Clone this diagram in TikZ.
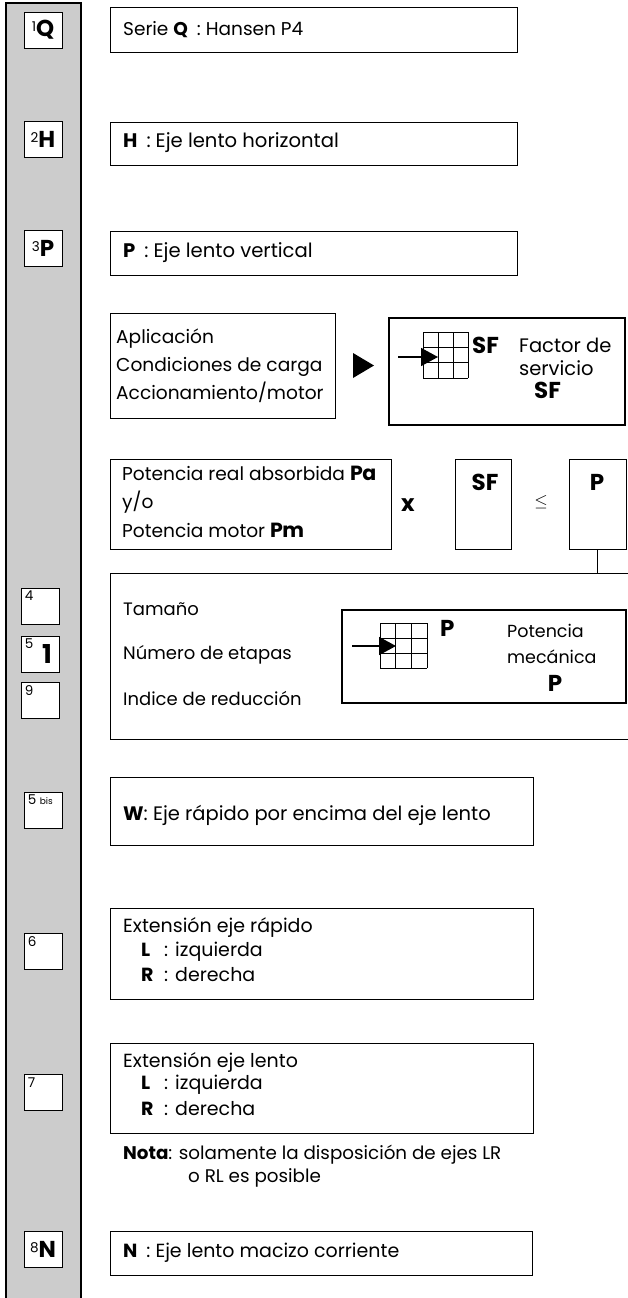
\documentclass[tikz,border=0pt]{standalone}
\usepackage{fontspec}
\setmainfont{Poppins}
\usetikzlibrary{arrows.meta}
\definecolor{stripgray}{HTML}{CCCCCC}
\newcommand\keyc[1]{\textbf{#1}\hspace{9pt}:\hspace{5pt}}
\begin{document}
\begin{tikzpicture}[x=1pt,y=-1pt,
  lab/.style={draw=black,fill=white,line width=0.8pt,minimum width=38pt,minimum height=36pt,inner sep=0pt},
  tbox/.style={draw=black,line width=0.9pt,inner sep=0pt},
  heavybox/.style={draw=black,line width=2.6pt,inner sep=0pt},
  txt/.style={anchor=west,inner sep=0pt,font=\fontsize{19}{22}\selectfont},
  ctxt/.style={inner sep=0pt,font=\fontsize{18}{19}\selectfont},
  num/.style={anchor=north west,inner sep=0pt,font=\fontsize{13.5}{13.5}\selectfont},
  bigb/.style={inner sep=0pt,font=\bfseries\fontsize{23}{23}\selectfont},
  tip/.style={-{Triangle[length=17pt,width=18pt]},line width=1.6pt}
]
\useasboundingbox (0,0) rectangle (628,1298);
% left strip
\fill[stripgray] (6,1300) -- (6,3) -- (81,3) -- (81,1300) -- cycle;
\draw[line width=2.2pt] (6,1300) -- (6,3) -- (81,3) -- (81,1300);

% label boxes
\node[lab] (l1) at (43,30) {\raisebox{5pt}{\fontsize{13.5}{13.5}\selectfont 1}{\bfseries\fontsize{23}{23}\selectfont Q}};
\node[lab] (l2) at (43,139) {\raisebox{5pt}{\fontsize{13.5}{13.5}\selectfont 2}{\bfseries\fontsize{23}{23}\selectfont H}};
\node[lab] (l3) at (43,248.5) {\raisebox{5pt}{\fontsize{13.5}{13.5}\selectfont 3}{\bfseries\fontsize{23}{23}\selectfont P}};
\node[lab] (l4) at (40,606) {};
\node[num] at ([shift={(4,3)}]l4.north west) {4};
\node[lab] (l5) at (40,654) {};
\node[num] at ([shift={(4,3)}]l5.north west) {5};
\node[bigb,font=\bfseries\fontsize{26}{26}\selectfont] at (47,654) {1};
\node[lab] (l9) at (40,700.5) {};
\node[num] at ([shift={(4,3)}]l9.north west) {9};
\node[lab] (l5b) at (43,810) {};
\node[num] at ([shift={(4,3)}]l5b.north west) {5 {\fontsize{9}{9}\selectfont bis}};
\node[lab] (l6) at (43,951.5) {};
\node[num] at ([shift={(4,3)}]l6.north west) {6};
\node[lab] (l7) at (43,1092.5) {};
\node[num] at ([shift={(4,3)}]l7.north west) {7};
\node[lab] (l8) at (43,1249) {\raisebox{5pt}{\fontsize{13.5}{13.5}\selectfont 8}{\bfseries\fontsize{23}{23}\selectfont N}};

% top three boxes
\node[tbox,minimum width=407pt,minimum height=45pt] (serie) at (313.5,29.5) {};
\node[txt,font=\fontsize{18.5}{22}\selectfont] (tserie) at (123,30) {Serie \keyc{Q}Hansen P4};
\node[tbox,minimum width=407pt,minimum height=43pt] (hbox) at (313.5,143.5) {};
\node[txt,font=\fontsize{19.6}{22}\selectfont] (th) at (123,143) {\keyc{H}Eje lento horizontal};
\node[tbox,minimum width=407pt,minimum height=44pt] (pbox) at (313.5,253) {};
\node[txt,font=\fontsize{19.6}{22}\selectfont] (tp) at (123,253) {\keyc{P}Eje lento vertical};

% application / service factor
\node[tbox,minimum width=225pt,minimum height=105pt] (apl) at (222.5,365.5) {};
\node[txt,align=left,font=\fontsize{18.6}{28}\selectfont] (tapl) at (116,366) {Aplicación\\Condiciones de carga\\Accionamiento/motor};
\fill (353,353) -- (374,365.5) -- (353,378) -- cycle;
\node[heavybox,minimum width=236pt,minimum height=107pt] (sfbox) at (507,371.5) {};
\foreach \i in {0,1,2,3} {
  \draw[line width=0.8pt] (423+15*\i,332) -- (423+15*\i,378);
  \draw[line width=0.8pt] (423,332+15.33*\i) -- (468,332+15.33*\i);
}
\coordinate (sfa) at (398,357);
\coordinate (sfb) at (438,357);
\draw[tip] (sfa) -- (sfb);
\node[bigb,anchor=west] (sf1) at (472,345) {SF};
\node[txt,font=\fontsize{19.5}{22}\selectfont] (tfac) at (519,345) {Factor de};
\node[txt,font=\fontsize{19.5}{22}\selectfont] (tser) at (519,368) {servicio};
\node[bigb,anchor=west] (sf2) at (534,390) {SF};

% formula row
\node[tbox,minimum width=281pt,minimum height=90pt] (pot) at (250.5,504) {};
\node[txt,align=left,font=\fontsize{18.6}{28.5}\selectfont] (tpot) at (122,501.5) {Potencia real absorbida {\fontsize{20.5}{20}\selectfont\textbf{P\kern-0.5pt a}}\\y/o\\Potencia motor {\fontsize{20.5}{20}\selectfont\textbf{P\kern-0.5pt m}}};
\node[bigb] (times) at (408,505) {x};
\node[tbox,minimum width=56pt,minimum height=90pt] (sfv) at (483,504) {};
\node[bigb] (sfvt) at (485,482) {SF};
\node[ctxt] (leq) at (541,502) {$\leq$};
\node[tbox,minimum width=57pt,minimum height=90pt] (pv) at (597.5,504) {};
\node[bigb] (pvt) at (597,482) {P};

% size / stages / ratio box
\draw[line width=0.9pt] (629,573) -- (110,573) -- (110,739) -- (629,739);
\coordinate (bigtop) at (597.5,573);
\draw[line width=1.2pt] (pv.south) -- (bigtop);
\node[txt,font=\fontsize{18}{22}\selectfont] (ttam) at (123,609) {Tamaño};
\node[txt,font=\fontsize{18}{22}\selectfont] (tnum) at (123,655) {Número de etapas};
\node[txt,font=\fontsize{18}{22}\selectfont] (tind) at (123,698) {Indice de reducción};
\node[heavybox,minimum width=284pt,minimum height=93pt] (ipbox) at (484,656.5) {};
\foreach \i in {0,1,2,3} {
  \draw[line width=0.8pt] (380+15.67*\i,623) -- (380+15.67*\i,668);
  \draw[line width=0.8pt] (380,623+15*\i) -- (427,623+15*\i);
}
\coordinate (pa) at (352,646);
\coordinate (pb) at (396,646);
\draw[tip] (pa) -- (pb);
\node[bigb,anchor=west] (p1) at (440,628) {P};
\node[txt,font=\fontsize{17.5}{22}\selectfont] (tpotm) at (507,631) {Potencia};
\node[txt,font=\fontsize{17.5}{22}\selectfont] (tmec) at (507,657) {mecánica};
\node[bigb] (p2) at (555,683) {P};

% W
\node[tbox,minimum width=423pt,minimum height=68pt] (wbox) at (321.5,811) {};
\node[txt,font=\fontsize{19.5}{22}\selectfont] (tw) at (123,815) {\textbf{W}: Eje rápido por encima del eje lento};

% extension fast shaft
\node[tbox,minimum width=423pt,minimum height=91pt] (erbox) at (321.5,953.5) {};
\node[txt] (ter) at (123,927) {Extensión eje rápido};
\node[txt] (terl) at (141,952) {\makebox[23pt][l]{\textbf{L}}:\hspace{7pt}izquierda};
\node[txt] (terr) at (141,975) {\makebox[23pt][l]{\textbf{R}}:\hspace{7pt}derecha};

% extension slow shaft
\node[tbox,minimum width=423pt,minimum height=90pt] (elbox) at (321.5,1088) {};
\node[txt] (tel) at (123,1062) {Extensión eje lento};
\node[txt] (tell) at (141,1085) {\makebox[23pt][l]{\textbf{L}}:\hspace{7pt}izquierda};
\node[txt] (telr) at (141,1109) {\makebox[23pt][l]{\textbf{R}}:\hspace{7pt}derecha};
\node[txt,font=\fontsize{18.3}{22}\selectfont] (tnota) at (123,1155) {\textbf{Nota}: solamente la disposición de ejes LR};
\node[txt,font=\fontsize{18.3}{22}\selectfont] (tnota2) at (188,1178) {o RL es posible};

% N
\node[tbox,minimum width=422pt,minimum height=44pt] (nbox) at (321,1253) {};
\node[txt,font=\fontsize{19}{22}\selectfont] (tn) at (123,1253) {\keyc{N}Eje lento macizo corriente};
\end{tikzpicture}
\end{document}
